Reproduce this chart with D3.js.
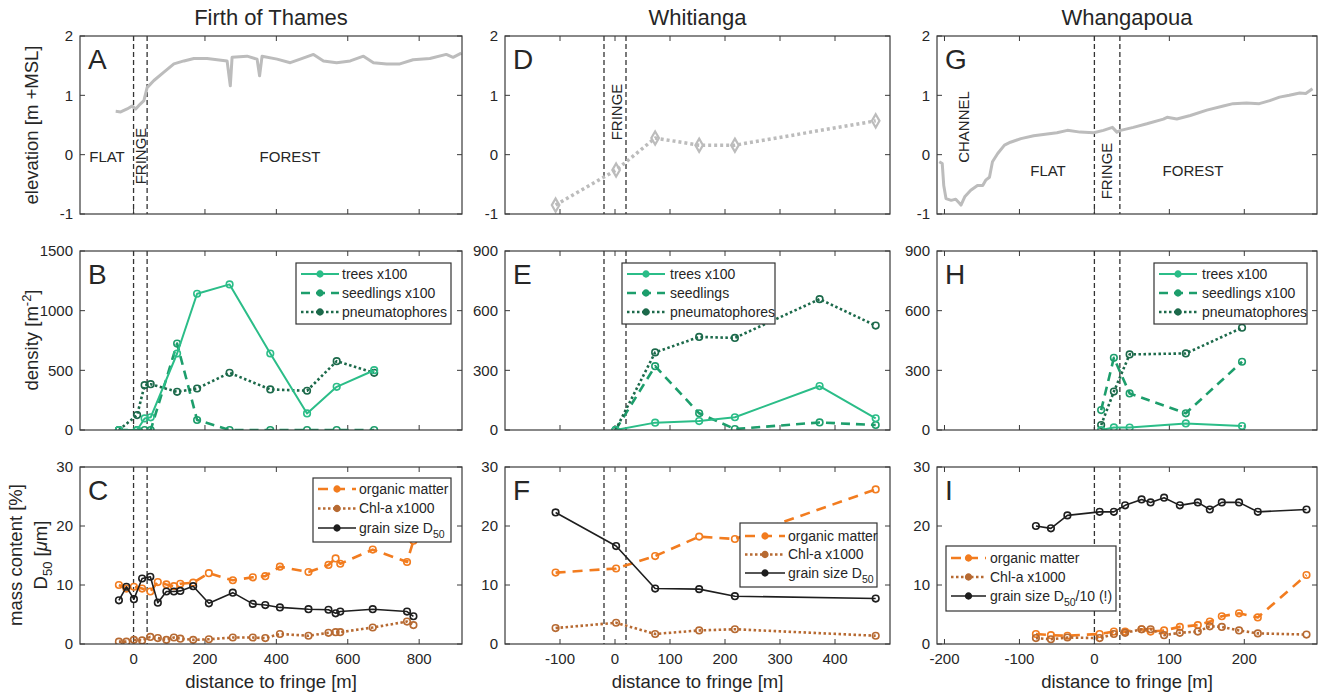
<!DOCTYPE html>
<html>
<head>
<meta charset="utf-8">
<script src="https://cdn.jsdelivr.net/npm/d3@7"></script>
<style>
  body { margin: 0; background: #fff; }
  text { font-family: "Liberation Sans", Arial, sans-serif; fill: #262626; }
</style>
</head>
<body>
<div id="chart"></div>
<script>
// ---- data ----
const siteNames = ['Firth of Thames', 'Whitianga', 'Whangapoua'];

// elevation [m +MSL]
const thamesElevX = [-50, -36, -18, -4, 6, 15, 29, 38, 57, 85, 113, 141, 169, 206, 234, 262, 271, 276, 318, 346, 353, 360, 402, 439, 467, 504, 532, 569, 607, 644, 672, 709, 746, 783, 830, 876, 895, 918];
const thamesElevY = [0.73, 0.72, 0.77, 0.82, 0.77, 0.83, 0.91, 1.13, 1.25, 1.39, 1.53, 1.58, 1.62, 1.62, 1.60, 1.58, 1.16, 1.64, 1.66, 1.61, 1.33, 1.66, 1.61, 1.55, 1.61, 1.69, 1.58, 1.55, 1.58, 1.66, 1.55, 1.53, 1.53, 1.60, 1.62, 1.69, 1.64, 1.71];
const whitiElevX = [-108, 2, 73, 153, 218, 474];
const whitiElevY = [-0.85, -0.26, 0.28, 0.16, 0.16, 0.57];
const whangElevX = [-207, -203, -201, -198, -191, -185, -180, -178, -173, -165, -156, -149, -145, -140, -136, -129, -120, -112, -98, -81, -63, -50, -36, -19, -1, 12, 24, 30, 35, 52, 70, 92, 97, 110, 128, 150, 172, 185, 203, 220, 234, 247, 260, 274, 282, 291];
const whangElevY = [-0.12, -0.15, -0.52, -0.74, -0.77, -0.75, -0.82, -0.85, -0.71, -0.60, -0.52, -0.52, -0.43, -0.38, -0.12, 0.02, 0.16, 0.21, 0.27, 0.32, 0.35, 0.37, 0.41, 0.38, 0.37, 0.41, 0.46, 0.38, 0.41, 0.46, 0.52, 0.60, 0.63, 0.60, 0.66, 0.75, 0.82, 0.86, 0.87, 0.86, 0.91, 0.97, 1.00, 1.04, 1.03, 1.11];

// density [m-2]
const thamesDensX = [-41, 10, 31, 48, 122, 178, 269, 383, 486, 569, 674];
const thamesTrees = [0, 0, 97, 106, 641, 1142, 1220, 641, 139, 362, 501];
const thamesSeedlings = [0, 0, 0, 0, 724, 84, 0, 0, 0, 0, 0];
const thamesPneu = [0, 125, 376, 384, 320, 348, 479, 340, 329, 577, 479];
const whitiDensX = [1, 73, 153, 218, 372, 474];
const whitiTrees = [0, 37, 45, 64, 221, 59];
const whitiSeedlings = [0, 321, 84, 5, 38, 25];
const whitiPneu = [0, 390, 468, 463, 658, 525];
const whangDensX = [9, 26, 47, 122, 197];
const whangTrees = [0, 13, 12, 33, 20];
const whangSeedlings = [100, 363, 184, 84, 343];
const whangPneu = [25, 193, 380, 385, 514];

// sediment: organic matter [%], Chl-a x1000, grain size D50
const thamesSedX = [-41, -20, 1, 24, 47, 68, 92, 113, 131, 167, 211, 278, 334, 369, 410, 490, 546, 566, 579, 670, 766, 784];
const thamesOM = [10.0, 9.4, 9.7, 9.4, 8.9, 10.5, 10.1, 9.8, 10.2, 10.4, 12.0, 10.8, 11.3, 11.5, 13.1, 12.2, 13.4, 14.5, 13.6, 16.0, 13.9, 17.5];
const thamesChl = [0.4, 0.4, 0.7, 0.6, 1.2, 1.0, 0.7, 1.1, 0.9, 0.7, 0.8, 1.1, 1.1, 1.0, 1.7, 1.4, 1.9, 2.0, 2.0, 2.8, 3.8, 3.2];
const thamesGrain = [7.4, 9.7, 7.6, 11.1, 11.4, 7.0, 8.9, 8.9, 9.0, 9.8, 6.9, 8.7, 6.8, 6.6, 6.2, 5.9, 5.8, 5.2, 5.5, 5.9, 5.5, 4.7];
const whitiSedX = [-108, 2, 73, 153, 218, 474];
const whitiOM = [12.1, 12.8, 14.9, 18.2, 17.8, 26.2];
const whitiChl = [2.7, 3.6, 1.7, 2.3, 2.5, 1.4];
const whitiGrain = [22.3, 16.6, 9.4, 9.3, 8.1, 7.7];
const whangSedX = [-78, -58, -36, 7, 26, 41, 63, 75, 93, 114, 138, 154, 170, 193, 218, 283];
const whangOM = [1.7, 1.5, 1.4, 1.7, 2.1, 2.1, 2.5, 2.1, 2.3, 2.9, 3.2, 3.8, 4.7, 5.2, 4.5, 11.7];
const whangChl = [1.0, 0.8, 1.1, 1.0, 1.7, 1.9, 2.5, 2.5, 1.5, 1.9, 2.1, 3.0, 2.9, 2.3, 1.8, 1.6];
const whangGrain10 = [20.0, 19.6, 21.8, 22.4, 22.4, 23.5, 24.5, 24.0, 24.8, 23.5, 24.0, 22.8, 24.0, 24.0, 22.4, 22.8];

const xTicks = [[0, 200, 400, 600, 800], [-100, 0, 100, 200, 300, 400], [-200, -100, 0, 100, 200]];
const fringeX = [[0, 38], [-20, 20], [0, 34]];

// ---- layout ----
const W = 1323, H = 697;
const cols = [
  {x0: 80, x1: 462, dom: [-150, 920]},
  {x0: 505, x1: 890, dom: [-200, 500]},
  {x0: 937, x1: 1317, dom: [-210, 297]}
];
const rows = [
  {y0: 36, y1: 214},
  {y0: 251, y1: 430},
  {y0: 467, y1: 644}
];

const C = {
  elev: '#bcbcbc', trees: '#2bbd88', seed: '#1d9e6c', pneu: '#1c6a4b',
  om: '#f27c1f', chl: '#b76a32', grain: '#1e1e1e', axis: '#3a3a3a'
};

const svg = d3.select('#chart').append('svg')
  .attr('width', W).attr('height', H)
  .attr('viewBox', '0 0 ' + W + ' ' + H);

function makePanel(ci, ri, ydom, yticks, letter) {
  const c = cols[ci], r = rows[ri];
  const x = d3.scaleLinear().domain(c.dom).range([c.x0, c.x1]);
  const y = d3.scaleLinear().domain(ydom).range([r.y1, r.y0]);
  const g = svg.append('g');
  const id = 'clip' + ci + ri;
  svg.append('clipPath').attr('id', id).append('rect')
    .attr('x', c.x0).attr('y', r.y0).attr('width', c.x1 - c.x0).attr('height', r.y1 - r.y0);
  const frame = g.append('g');
  const plot = g.append('g').attr('clip-path', 'url(#' + id + ')');

  // ticks inward on all sides
  xTicks[ci].forEach(function (t) {
    frame.append('line').attr('x1', x(t)).attr('x2', x(t)).attr('y1', r.y1).attr('y2', r.y1 - 5)
      .attr('stroke', C.axis);
    frame.append('line').attr('x1', x(t)).attr('x2', x(t)).attr('y1', r.y0).attr('y2', r.y0 + 5)
      .attr('stroke', C.axis);
    if (ri === 2) {
      frame.append('text').attr('x', x(t)).attr('y', r.y1 + 20)
        .attr('text-anchor', 'middle').style('font-size', '15px').text(t);
    }
  });
  yticks.forEach(function (t) {
    frame.append('line').attr('x1', c.x0).attr('x2', c.x0 + 5).attr('y1', y(t)).attr('y2', y(t))
      .attr('stroke', C.axis);
    frame.append('line').attr('x1', c.x1).attr('x2', c.x1 - 5).attr('y1', y(t)).attr('y2', y(t))
      .attr('stroke', C.axis);
    frame.append('text').attr('x', c.x0 - 7).attr('y', y(t)).attr('dy', '0.35em')
      .attr('text-anchor', 'end').style('font-size', '15px').text(t);
  });

  // fringe dashed lines
  fringeX[ci].forEach(function (f) {
    plot.append('line').attr('x1', x(f)).attr('x2', x(f)).attr('y1', r.y0).attr('y2', r.y1)
      .attr('stroke', '#333').attr('stroke-width', 1.3).attr('stroke-dasharray', '5,3');
  });

  g.append('rect').attr('x', c.x0).attr('y', r.y0).attr('width', c.x1 - c.x0).attr('height', r.y1 - r.y0)
    .attr('fill', 'none').attr('stroke', C.axis).attr('stroke-width', 1.2);

  g.append('text').attr('x', c.x0 + 8).attr('y', r.y0 + 33)
    .style('font-size', '28px').text(letter);

  return {g: g, plot: plot, x: x, y: y};
}

function series(p, xs, ys, o) {
  const pts = xs.map(function (d, i) { return [d, ys[i]]; });
  const line = d3.line().x(function (d) { return p.x(d[0]); }).y(function (d) { return p.y(d[1]); });
  p.plot.append('path').datum(pts).attr('d', line)
    .attr('fill', 'none').attr('stroke', o.color).attr('stroke-width', o.width || 2)
    .attr('stroke-dasharray', o.dash || null).attr('stroke-linejoin', 'round');
  if (o.marker === 'none') return;
  const sym = d3.symbol().type(o.marker === 'diamond' ? d3.symbolDiamond : d3.symbolCircle).size(o.msize || 34);
  p.plot.selectAll(null).data(pts).enter().append('path')
    .attr('d', sym)
    .attr('transform', function (d) { return 'translate(' + p.x(d[0]) + ',' + p.y(d[1]) + ')'; })
    .attr('fill', o.fill || 'none').attr('stroke', o.mcolor || o.color).attr('stroke-width', o.mwidth || 1.6);
}

function legend(box, items) {
  const lg = svg.append('g');
  lg.append('rect').attr('x', box.x).attr('y', box.y).attr('width', box.w).attr('height', box.h)
    .attr('fill', '#fff').attr('stroke', '#333').attr('stroke-width', 1.2);
  items.forEach(function (it, i) {
    const yy = box.y + box.pad + i * box.step;
    lg.append('line').attr('x1', box.x + 5).attr('x2', box.x + 5 + box.len).attr('y1', yy).attr('y2', yy)
      .attr('stroke', it.color).attr('stroke-width', it.width || 2).attr('stroke-dasharray', it.dash || null);
    lg.append('path').attr('d', d3.symbol().type(d3.symbolCircle).size(26))
      .attr('transform', 'translate(' + (box.x + 5 + box.len / 2) + ',' + yy + ')')
      .attr('fill', it.color).attr('stroke', it.color).attr('stroke-width', 1.5);
    const t = lg.append('text').attr('x', box.x + box.len + box.tx).attr('y', yy).attr('dy', '0.35em')
      .style('font-size', '14px');
    it.text(t);
  });
}

// ---- column titles & axis labels ----
cols.forEach(function (c, i) {
  svg.append('text').attr('x', (c.x0 + c.x1) / 2).attr('y', 25).attr('text-anchor', 'middle')
    .style('font-size', '22px').text(siteNames[i]);
  svg.append('text').attr('x', (c.x0 + c.x1) / 2).attr('y', 688).attr('text-anchor', 'middle')
    .style('font-size', '18.5px').text('distance to fringe [m]');
});

svg.append('text').attr('transform', 'translate(38,125) rotate(-90)').attr('text-anchor', 'middle')
  .style('font-size', '18.5px').text('elevation [m +MSL]');
const dl = svg.append('text').attr('transform', 'translate(38,340) rotate(-90)').attr('text-anchor', 'middle')
  .style('font-size', '18.5px');
dl.append('tspan').text('density [m');
dl.append('tspan').attr('dy', -7).style('font-size', '13px').text('-2');
dl.append('tspan').attr('dy', 7).text(']');
svg.append('text').attr('transform', 'translate(22,555) rotate(-90)').attr('text-anchor', 'middle')
  .style('font-size', '18.5px').text('mass content [%]');
const d5 = svg.append('text').attr('transform', 'translate(47,555) rotate(-90)').attr('text-anchor', 'middle')
  .style('font-size', '18.5px');
d5.append('tspan').text('D');
d5.append('tspan').attr('dy', 5).style('font-size', '13px').text('50');
d5.append('tspan').attr('dy', -5).text(' [');
d5.append('tspan').style('font-style', 'italic').text('\u03bc');
d5.append('tspan').text('m]');

// ---- row 1: elevation ----
const pA = makePanel(0, 0, [-1, 2], [-1, 0, 1, 2], 'A');
series(pA, thamesElevX, thamesElevY, {color: C.elev, width: 3, marker: 'none'});
const pD = makePanel(1, 0, [-1, 2], [-1, 0, 1, 2], 'D');
series(pD, whitiElevX, whitiElevY, {color: C.elev, width: 3.5, dash: '3,3', marker: 'diamond', msize: 50, mwidth: 2.2});
const pG = makePanel(2, 0, [-1, 2], [-1, 0, 1, 2], 'G');
series(pG, whangElevX, whangElevY, {color: C.elev, width: 3, marker: 'none'});

function zoneText(p, xv, yv, txt, rot) {
  p.g.append('text')
    .attr('transform', 'translate(' + xv + ',' + yv + ')' + (rot ? ' rotate(-90)' : ''))
    .attr('text-anchor', 'middle').attr('dy', '0.35em').style('font-size', '15px').text(txt);
}
zoneText(pA, 107, 157, 'FLAT');
zoneText(pA, 141, 156, 'FRINGE', true);
zoneText(pA, 290, 157, 'FOREST');
zoneText(pD, 617, 112, 'FRINGE', true);
zoneText(pG, 964, 127, 'CHANNEL', true);
zoneText(pG, 1048, 171, 'FLAT');
zoneText(pG, 1107, 171, 'FRINGE', true);
zoneText(pG, 1193, 171, 'FOREST');

// ---- row 2: density ----
const treeStyle = {color: C.trees, width: 2};
const seedStyle = {color: C.seed, width: 2.6, dash: '9,6'};
const pneuStyle = {color: C.pneu, width: 2.6, dash: '2.5,2.5'};

const pB = makePanel(0, 1, [0, 1500], [0, 500, 1000, 1500], 'B');
series(pB, thamesDensX, thamesSeedlings, seedStyle);
series(pB, thamesDensX, thamesPneu, pneuStyle);
series(pB, thamesDensX, thamesTrees, treeStyle);
const pE = makePanel(1, 1, [0, 900], [0, 300, 600, 900], 'E');
series(pE, whitiDensX, whitiSeedlings, seedStyle);
series(pE, whitiDensX, whitiPneu, pneuStyle);
series(pE, whitiDensX, whitiTrees, treeStyle);
const pH = makePanel(2, 1, [0, 900], [0, 300, 600, 900], 'H');
series(pH, whangDensX, whangSeedlings, seedStyle);
series(pH, whangDensX, whangPneu, pneuStyle);
series(pH, whangDensX, whangTrees, treeStyle);

function densItems(seedLabel) {
  return [
    {color: C.trees, width: 2, text: function (t) { t.text('trees x100'); }},
    {color: C.seed, width: 2.6, dash: '9,6', text: function (t) { t.text(seedLabel); }},
    {color: C.pneu, width: 2.6, dash: '2.5,2.5', text: function (t) { t.text('pneumatophores'); }}
  ];
}
legend({x: 296, y: 263, w: 155, h: 61, pad: 11, step: 19, len: 38, tx: 8}, densItems('seedlings x100'));
legend({x: 622, y: 263, w: 153, h: 61, pad: 11, step: 19, len: 38, tx: 10}, densItems('seedlings'));
legend({x: 1154, y: 263, w: 153, h: 61, pad: 11, step: 19, len: 38, tx: 10}, densItems('seedlings x100'));

// ---- row 3: sediment ----
const omStyle = {color: C.om, width: 2.6, dash: '10,7'};
const chlStyle = {color: C.chl, width: 2.6, dash: '2.5,2.5'};
const grainStyle = {color: C.grain, width: 1.6};

const pC = makePanel(0, 2, [0, 30], [0, 10, 20, 30], 'C');
series(pC, thamesSedX, thamesOM, omStyle);
series(pC, thamesSedX, thamesChl, chlStyle);
series(pC, thamesSedX, thamesGrain, grainStyle);
const pF = makePanel(1, 2, [0, 30], [0, 10, 20, 30], 'F');
series(pF, whitiSedX, whitiOM, omStyle);
series(pF, whitiSedX, whitiChl, chlStyle);
series(pF, whitiSedX, whitiGrain, grainStyle);
const pI = makePanel(2, 2, [0, 30], [0, 10, 20, 30], 'I');
series(pI, whangSedX, whangOM, omStyle);
series(pI, whangSedX, whangChl, chlStyle);
series(pI, whangSedX, whangGrain10, grainStyle);

function sedItems(grainSuffix) {
  return [
    {color: C.om, width: 2.6, dash: '10,7', text: function (t) { t.text('organic matter'); }},
    {color: C.chl, width: 2.6, dash: '2.5,2.5', text: function (t) { t.text('Chl-a x1000'); }},
    {color: C.grain, width: 1.6, text: function (t) {
      t.append('tspan').text('grain size D');
      t.append('tspan').attr('dy', 5).style('font-size', '10.5px').text('50');
      if (grainSuffix) t.append('tspan').attr('dy', -5).text(grainSuffix);
    }}
  ];
}
legend({x: 313, y: 478, w: 138, h: 64, pad: 11, step: 19.5, len: 38, tx: 8}, sedItems(''));
legend({x: 740, y: 523, w: 137, h: 64, pad: 13, step: 18.5, len: 40, tx: 8}, sedItems(''));
legend({x: 946, y: 546, w: 170, h: 65, pad: 12, step: 19, len: 35, tx: 9}, sedItems('/10 (!)'));
</script>
</body>
</html>
